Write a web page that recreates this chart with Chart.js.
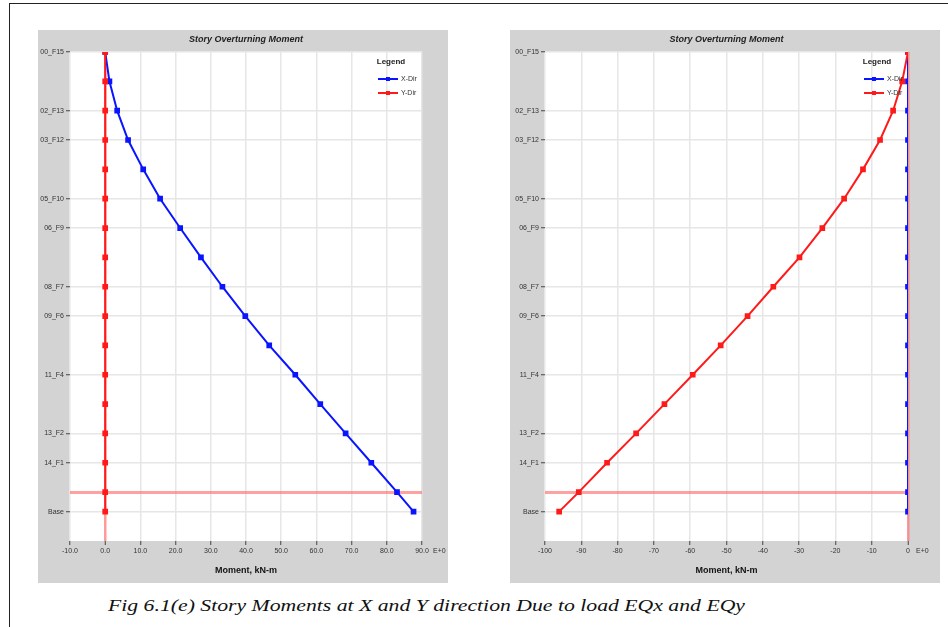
<!DOCTYPE html>
<html>
<head>
<meta charset="utf-8">
<script src="https://cdn.jsdelivr.net/npm/chart.js@4/dist/chart.umd.min.js"></script>
<style>
  html, body { margin: 0; padding: 0; background: #fff; width: 948px; height: 627px; overflow: hidden; position: relative; }
  #frame { position: absolute; left: 9px; top: 3px; width: 980px; height: 680px; border-left: 1px solid #222; border-top: 1px solid #222; }
  .panel { position: absolute; top: 30px; height: 553px; background: #d3d3d3; }
  #pL { left: 38px; width: 410px; }
  #pR { left: 510px; width: 430px; }
  canvas { display: block; }
  #caption { position: absolute; left: 108px; top: 597px; font: italic 16px "Liberation Serif", "DejaVu Serif", serif; white-space: nowrap; transform-origin: 0 0; color: #111; }
</style>
</head>
<body>
<div id="frame"></div>
<div class="panel" id="pL"><canvas id="cL" width="410" height="553"></canvas></div>
<div class="panel" id="pR"><canvas id="cR" width="430" height="553"></canvas></div>
<div id="caption">Fig 6.1(e) Story Moments at X and Y direction Due to load EQx and EQy</div>

<script>
// Story levels, bottom to top, with their elevations (m)
const storyLevels = ['Base', 'Plinth', '14_F1', '13_F2', '12_F3', '11_F4', '10_F5', '09_F6', '08_F7',
                     '07_F8', '06_F9', '05_F10', '04_F11', '03_F12', '02_F13', '01_F14', '00_F15'];
const storyElevations = [0, 2, 5, 8, 11, 14, 17, 20, 23, 26, 29, 32, 35, 38, 41, 44, 47];

// Levels whose names appear on the vertical axis
const labelledLevels = ['Base', '14_F1', '13_F2', '11_F4', '09_F6', '08_F7', '06_F9', '05_F10', '03_F12', '02_F13', '00_F15'];
// Level marked with the reference line
const referenceLevel = 'Plinth';

// Overturning moments (kN-m) under load EQx
const eqxMomentX = [87.6, 82.9, 75.6, 68.3, 61.1, 54.0, 46.6, 39.8, 33.3, 27.2, 21.3, 15.6, 10.8, 6.5, 3.4, 1.2, 0];
const eqxMomentY = [0, 0, 0, 0, 0, 0, 0, 0, 0, 0, 0, 0, 0, 0, 0, 0, 0];

// Overturning moments (kN-m) under load EQy
const eqyMomentX = [0, 0, 0, 0, 0, 0, 0, 0, 0, 0, 0, 0, 0, 0, 0, 0, 0];
const eqyMomentY = [-96.1, -90.7, -82.9, -74.9, -67.1, -59.3, -51.6, -44.2, -37.1, -29.9, -23.6, -17.6, -12.4, -7.7, -4.1, -1.6, 0];

const seriesNames = ['X-Dir', 'Y-Dir'];
const seriesColors = ['#0a14ff', '#ff1a1a'];
const chartTitle = 'Story Overturning Moment';

const axisFont = '"Liberation Sans Narrow", "Liberation Sans", Arial, sans-serif';

function toPoints(values) {
  return values.map((v, i) => ({ x: v, y: storyElevations[i] }));
}

// White plot background, title over the plot, legend box and exponent marker
const plotDecor = {
  id: 'plotDecor',
  beforeDraw(chart) {
    const { ctx, chartArea: a } = chart;
    ctx.save();
    ctx.fillStyle = '#ffffff';
    ctx.fillRect(a.left, a.top, a.right - a.left, a.bottom - a.top);
    ctx.fillStyle = '#222';
    ctx.font = 'italic bold 9px ' + axisFont;
    ctx.textAlign = 'center';
    ctx.textBaseline = 'middle';
    ctx.fillText(chartTitle, (a.left + a.right) / 2, 10);
    ctx.restore();
  },
  afterDatasetsDraw(chart) {
    const { ctx, chartArea: a } = chart;
    ctx.save();
    ctx.fillStyle = '#222';
    ctx.textBaseline = 'middle';
    ctx.font = 'bold 8px ' + axisFont;
    ctx.textAlign = 'center';
    ctx.fillText('Legend', a.right - 31, a.top + 10);
    ctx.font = '7px ' + axisFont;
    ctx.textAlign = 'left';
    seriesNames.forEach((name, i) => {
      const y = a.top + 27 + i * 14;
      ctx.strokeStyle = seriesColors[i];
      ctx.lineWidth = 2;
      ctx.beginPath();
      ctx.moveTo(a.right - 44, y);
      ctx.lineTo(a.right - 24, y);
      ctx.stroke();
      ctx.fillStyle = seriesColors[i];
      ctx.fillRect(a.right - 36, y - 2, 4, 4);
      ctx.fillStyle = '#333';
      ctx.fillText(name, a.right - 21, y);
    });
    ctx.restore();
  },
  afterDraw(chart) {
    const { ctx, chartArea: a } = chart;
    const gap = chart.options.plugins.plotDecor.exponentGap;
    ctx.save();
    ctx.fillStyle = '#333';
    ctx.font = '7px ' + axisFont;
    ctx.textAlign = 'left';
    ctx.textBaseline = 'middle';
    ctx.fillText('E+0', a.right + gap, a.bottom + 10);
    ctx.restore();
  }
};

const refElevation = storyElevations[storyLevels.indexOf(referenceLevel)];
const tickElevations = storyElevations.filter((e, i) =>
  labelledLevels.includes(storyLevels[i]) || storyLevels[i] === referenceLevel);

function buildChart(canvasId, xValues, yValues, xMin, xMax, xDecimals, yAxisWidth, rightPad, exponentGap) {
  return new Chart(document.getElementById(canvasId), {
    type: 'line',
    data: {
      datasets: [
        { label: seriesNames[0], data: toPoints(xValues), borderColor: seriesColors[0], backgroundColor: seriesColors[0],
          borderWidth: 2, pointStyle: 'rect', pointRadius: 2.6, tension: 0, order: 1 },
        { label: seriesNames[1], data: toPoints(yValues), borderColor: seriesColors[1], backgroundColor: seriesColors[1],
          borderWidth: 2, pointStyle: 'rect', pointRadius: 2.6, tension: 0, order: 0 }
      ]
    },
    options: {
      responsive: false,
      animation: false,
      layout: { padding: { left: 0, right: rightPad, top: 22, bottom: 0 } },
      plugins: {
        legend: { display: false },
        tooltip: { enabled: false },
        title: { display: false },
        plotDecor: { exponentGap: exponentGap }
      },
      scales: {
        x: {
          type: 'linear',
          min: xMin, max: xMax,
          border: { display: false },
          grid: {
            color: c => c.tick && c.tick.value === 0 ? 'rgba(255,120,120,0.75)' : '#e6e6e6',
            lineWidth: c => c.tick && c.tick.value === 0 ? 2.5 : 1.5,
            tickColor: '#444', tickLength: 4, tickWidth: 1
          },
          ticks: {
            stepSize: 10, autoSkip: false, maxRotation: 0, padding: 2, color: '#333',
            font: { family: axisFont, size: 7 },
            callback: v => v.toFixed(xDecimals)
          },
          title: {
            display: true, text: 'Moment, kN-m', color: '#111',
            font: { family: axisFont, size: 9, weight: 'bold', lineHeight: 1.2 },
            padding: { top: 0, bottom: 7 }
          },
          afterFit: s => { s.height = 42; }
        },
        y: {
          type: 'linear',
          min: -3, max: 47,
          border: { display: false },
          afterBuildTicks: s => { s.ticks = tickElevations.map(v => ({ value: v })); },
          grid: {
            color: c => c.tick && c.tick.value === refElevation ? 'rgba(255,110,110,0.65)' : '#e6e6e6',
            lineWidth: c => c.tick && c.tick.value === refElevation ? 3 : 1.5,
            tickColor: c => c.tick && c.tick.value === refElevation ? 'rgba(0,0,0,0)' : '#444',
            tickLength: 4, tickWidth: 1
          },
          ticks: {
            autoSkip: false, padding: 2, color: '#333',
            font: { family: axisFont, size: 7 },
            callback: v => {
              const i = storyElevations.indexOf(v);
              return i >= 0 && labelledLevels.includes(storyLevels[i]) ? storyLevels[i] : '';
            }
          },
          afterFit: s => { s.width = yAxisWidth; }
        }
      }
    },
    plugins: [plotDecor]
  });
}

buildChart('cL', eqxMomentX, eqxMomentY, -10, 90, 1, 32, 26, 11);
buildChart('cR', eqyMomentX, eqyMomentY, -100, 0, 0, 35, 32, 8);

// Fit the caption to its line width
const cap = document.getElementById('caption');
cap.style.transform = 'scaleX(' + (637 / cap.getBoundingClientRect().width) + ')';
</script>
</body>
</html>
